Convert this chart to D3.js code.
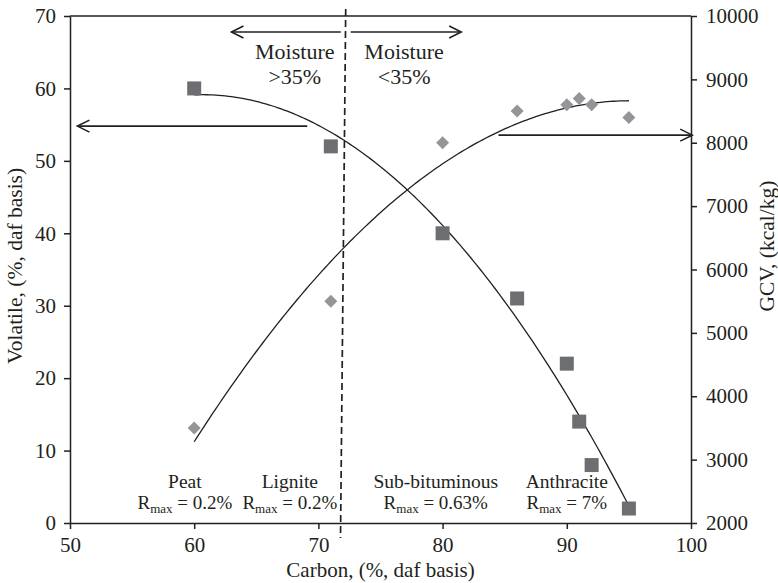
<!DOCTYPE html>
<html>
<head>
<meta charset="utf-8">
<script src="https://cdn.jsdelivr.net/npm/d3@7"></script>
<style>
  body { margin: 0; background: #fff; }
  svg { display: block; }
  text { font-family: "Liberation Serif", "Times New Roman", serif; fill: #231f20; }
</style>
</head>
<body>
<svg id="chart" width="778" height="583"></svg>
<script>
// ---- data ----
const volCarbon = [60, 71, 80, 86, 90, 91, 92, 95];
const volatileValues = [60, 52, 40, 31, 22, 14, 8, 2];
const gcvCarbon = [60, 71, 80, 86, 90, 91, 92, 95];
const gcvValues = [3500, 5500, 8000, 8500, 8600, 8700, 8600, 8400];
const xTicks = [50, 60, 70, 80, 90, 100];
const yLeftTicks = [0, 10, 20, 30, 40, 50, 60, 70];
const yRightTicks = [2000, 3000, 4000, 5000, 6000, 7000, 8000, 9000, 10000];
const rankNames = ["Peat", "Lignite", "Sub-bituminous", "Anthracite"];
const rankCarbon = [59.25, 67.7, 79.45, 90.0];
const rankRmax = ["0.2%", "0.2%", "0.63%", "7%"];
const moistureLabels = [">35%", "<35%"];
const moistureCarbon = [68.1, 76.9];
const moistureBoundary = 72;

// ---- layout ----
const svg = d3.select("#chart");
const x = d3.scaleLinear([50, 100], [70, 691]);
const yL = d3.scaleLinear([0, 70], [523, 16]);
const yR = d3.scaleLinear([2000, 10000], [523, 16]);
const ink = "#231f20";

// quadratic least-squares trendline
function quadFit(xs, ys) {
  const n = xs.length;
  let s = Array(5).fill(0), t = [0, 0, 0];
  for (let i = 0; i < n; i++) {
    for (let k = 0; k < 5; k++) s[k] += Math.pow(xs[i], k);
    for (let k = 0; k < 3; k++) t[k] += ys[i] * Math.pow(xs[i], k);
  }
  const A = [[s[0], s[1], s[2], t[0]], [s[1], s[2], s[3], t[1]], [s[2], s[3], s[4], t[2]]];
  for (let c = 0; c < 3; c++) {
    let p = c;
    for (let r = c + 1; r < 3; r++) if (Math.abs(A[r][c]) > Math.abs(A[p][c])) p = r;
    [A[c], A[p]] = [A[p], A[c]];
    for (let r = 0; r < 3; r++) if (r !== c) {
      const f = A[r][c] / A[c][c];
      for (let k = c; k < 4; k++) A[r][k] -= f * A[c][k];
    }
  }
  const co = [A[0][3] / A[0][0], A[1][3] / A[1][1], A[2][3] / A[2][2]];
  return v => co[0] + co[1] * v + co[2] * v * v;
}

// axes
const axisG = svg.append("g");
axisG.append("g").attr("transform", "translate(0,523)")
  .call(d3.axisBottom(x).tickValues(xTicks).tickSizeInner(6).tickSizeOuter(0).tickPadding(8));
axisG.append("g").attr("transform", "translate(70,0)")
  .call(d3.axisLeft(yL).tickValues(yLeftTicks).tickSizeInner(6).tickSizeOuter(0).tickPadding(8));
axisG.append("g").attr("transform", "translate(691,0)")
  .call(d3.axisRight(yR).tickValues(yRightTicks).tickFormat(d3.format("d"))
    .tickSizeInner(6).tickSizeOuter(0).tickPadding(9));
axisG.selectAll(".domain").attr("stroke", ink).attr("stroke-width", 1.5);
axisG.selectAll(".tick line").attr("stroke", ink).attr("stroke-width", 1.5);
axisG.selectAll(".tick text").style("font-family", '"Liberation Serif", serif')
  .style("font-size", "21px").attr("fill", ink);
// top frame line
svg.append("line").attr("x1", x(50)).attr("x2", x(100)).attr("y1", yL(70)).attr("y2", yL(70))
  .attr("stroke", ink).attr("stroke-width", 1.5);

// axis titles
svg.append("text").attr("x", x(75)).attr("y", 577).attr("text-anchor", "middle")
  .style("font-size", "21px").text("Carbon, (%, daf basis)");
svg.append("text").attr("transform", `translate(22,${yL(35.5)}) rotate(-90)`).attr("text-anchor", "middle")
  .style("font-size", "21.5px").text("Volatile, (%, daf basis)");
svg.append("text").attr("transform", `translate(774,${yR(6370)}) rotate(-90)`).attr("text-anchor", "middle")
  .style("font-size", "21.5px").text("GCV, (kcal/kg)");

// moisture boundary (dashed)
svg.append("line").attr("x1", x(moistureBoundary + 0.2)).attr("y1", 9)
  .attr("x2", x(moistureBoundary - 0.22)).attr("y2", 538)
  .attr("stroke", ink).attr("stroke-width", 1.7).attr("stroke-dasharray", "7,4");

// trendlines
const fitV = quadFit(volCarbon, volatileValues);
const fitG = quadFit(gcvCarbon, gcvValues);
const xsCurve = d3.range(60, 95.001, 0.25);
svg.append("path").datum(xsCurve)
  .attr("d", d3.line().x(d => x(d)).y(d => yL(fitV(d))))
  .attr("fill", "none").attr("stroke", ink).attr("stroke-width", 1.3);
svg.append("path").datum(xsCurve)
  .attr("d", d3.line().x(d => x(d)).y(d => yR(fitG(d))))
  .attr("fill", "none").attr("stroke", ink).attr("stroke-width", 1.3);

// markers
svg.append("g").selectAll("rect").data(volCarbon).join("rect")
  .attr("x", (d) => x(d) - 7).attr("y", (d, i) => yL(volatileValues[i]) - 7)
  .attr("width", 14).attr("height", 14).attr("fill", "#6d6e71");
svg.append("g").selectAll("path").data(gcvCarbon).join("path")
  .attr("transform", (d, i) => `translate(${x(d)},${yR(gcvValues[i])})`)
  .attr("d", "M0,-6.5L6.5,0L0,6.5L-6.5,0Z")
  .attr("fill", "#939598");

// arrows
function arrow(x1, y1, x2, y2) {
  const g = svg.append("g").attr("stroke", ink).attr("stroke-width", 1.6).attr("fill", "none");
  g.append("line").attr("x1", x1).attr("y1", y1).attr("x2", x2).attr("y2", y2);
  const dir = Math.sign(x2 - x1);
  g.append("path").attr("d", `M${x2 - dir * 12},${y2 - 6}L${x2},${y2}L${x2 - dir * 12},${y2 + 6}`);
}
arrow(x(71.8), yL(67.8), x(63.0), yL(67.8));
arrow(x(72.6), yL(67.8), x(81.5), yL(67.8));
arrow(x(69.1), yL(54.8), x(50.6), yL(54.8));
arrow(x(84.5), yR(8120), x(100.1), yR(8120));

// moisture text
moistureLabels.forEach((lab, i) => {
  svg.append("text").attr("x", x(moistureCarbon[i])).attr("y", 59).attr("text-anchor", "middle")
    .style("font-size", "22px").text("Moisture");
  svg.append("text").attr("x", x(moistureCarbon[i])).attr("y", 84).attr("text-anchor", "middle")
    .style("font-size", "22px").text(lab);
});

// coal rank labels
rankNames.forEach((name, i) => {
  svg.append("text").attr("x", x(rankCarbon[i])).attr("y", 488).attr("text-anchor", "middle")
    .style("font-size", "19.5px").text(name);
  const t = svg.append("text").attr("x", x(rankCarbon[i])).attr("y", 509).attr("text-anchor", "middle")
    .style("font-size", "19px");
  t.append("tspan").text("R");
  t.append("tspan").attr("dy", 4).style("font-size", "13px").text("max");
  t.append("tspan").attr("dy", -4).text(" = " + rankRmax[i]);
});
</script>
</body>
</html>
